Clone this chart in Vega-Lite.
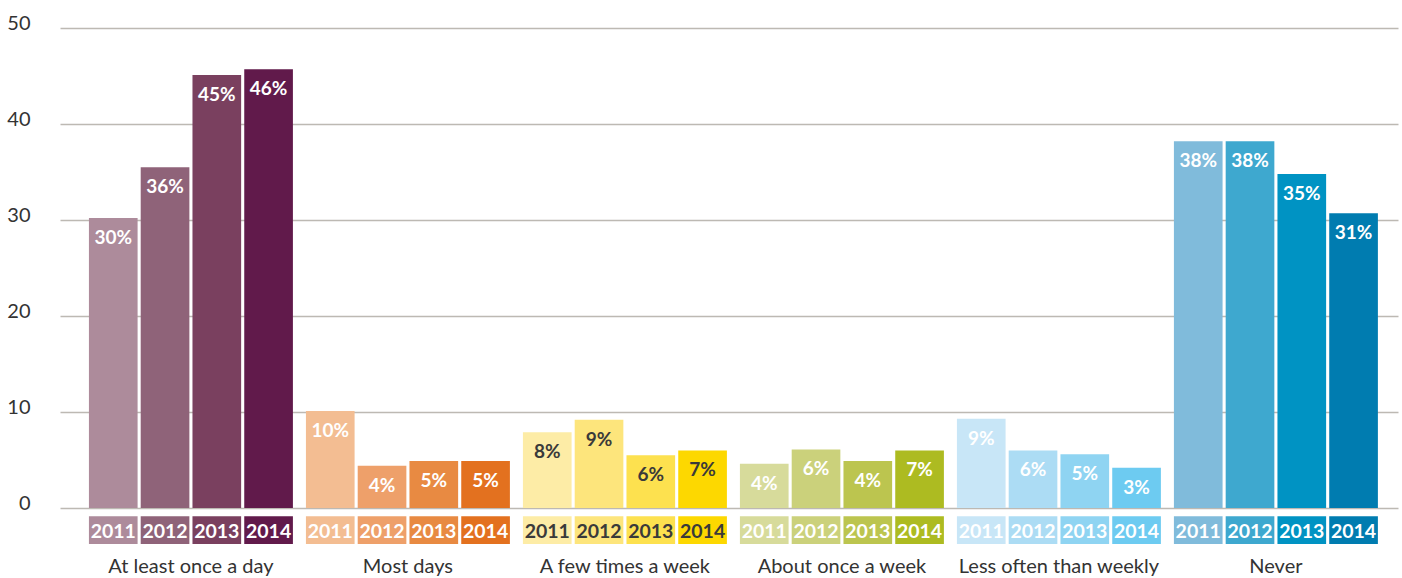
{
  "$schema": "https://vega.github.io/schema/vega-lite/v6.json",
  "width": 1338,
  "height": 480,
  "autosize": "none",
  "padding": {"left": 60, "top": 28, "right": 4, "bottom": 70},
  "background": "white",
  "config": {"view": {"stroke": null}, "font": "Lato"},
  "data": {
    "values": [
      {"group": "At least  once a day", "year": "2011", "value": 30.2, "label": "30%"},
      {"group": "At least  once a day", "year": "2012", "value": 35.5, "label": "36%"},
      {"group": "At least  once a day", "year": "2013", "value": 45.1, "label": "45%"},
      {"group": "At least  once a day", "year": "2014", "value": 45.7, "label": "46%"},
      {"group": "Most days", "year": "2011", "value": 10.1, "label": "10%"},
      {"group": "Most days", "year": "2012", "value": 4.4, "label": "4%"},
      {"group": "Most days", "year": "2013", "value": 4.9, "label": "5%"},
      {"group": "Most days", "year": "2014", "value": 4.9, "label": "5%"},
      {"group": "A few times a week", "year": "2011", "value": 7.9, "label": "8%"},
      {"group": "A few times a week", "year": "2012", "value": 9.2, "label": "9%"},
      {"group": "A few times a week", "year": "2013", "value": 5.5, "label": "6%"},
      {"group": "A few times a week", "year": "2014", "value": 6.0, "label": "7%"},
      {"group": "About once a week", "year": "2011", "value": 4.6, "label": "4%"},
      {"group": "About once a week", "year": "2012", "value": 6.1, "label": "6%"},
      {"group": "About once a week", "year": "2013", "value": 4.9, "label": "4%"},
      {"group": "About once a week", "year": "2014", "value": 6.0, "label": "7%"},
      {"group": "Less often than weekly", "year": "2011", "value": 9.3, "label": "9%"},
      {"group": "Less often than weekly", "year": "2012", "value": 6.0, "label": "6%"},
      {"group": "Less often than weekly", "year": "2013", "value": 5.6, "label": "5%"},
      {"group": "Less often than weekly", "year": "2014", "value": 4.2, "label": "3%"},
      {"group": "Never", "year": "2011", "value": 38.2, "label": "38%"},
      {"group": "Never", "year": "2012", "value": 38.2, "label": "38%"},
      {"group": "Never", "year": "2013", "value": 34.8, "label": "35%"},
      {"group": "Never", "year": "2014", "value": 30.7, "label": "31%"}
    ]
  },
  "transform": [{"calculate": "datum.group + '|' + datum.year", "as": "key"}],
  "encoding": {
    "x": {
      "field": "group",
      "type": "nominal",
      "sort": null,
      "scale": {"paddingInner": 0.06, "paddingOuter": 0.113, "align": 0.59},
      "axis": {
        "title": null,
        "domain": false,
        "ticks": false,
        "labelAngle": 0,
        "labelFontSize": 20,
        "labelLimit": 0,
        "labelColor": "#333333",
        "labelFont": "Lato",
        "labelPadding": 48,
        "labelBaseline": "top"
      }
    },
    "xOffset": {
      "field": "year",
      "type": "nominal",
      "scale": {"paddingInner": 0.06, "paddingOuter": 0}
    }
  },
  "layer": [
    {
      "mark": {"type": "bar"},
      "encoding": {
        "y": {
          "field": "value",
          "type": "quantitative",
          "scale": {"domain": [0, 50], "nice": false},
          "axis": {
            "title": null,
            "values": [0, 10, 20, 30, 40, 50],
            "domain": false,
            "ticks": false,
            "grid": true,
            "gridColor": "#bdb9b3",
            "gridWidth": 1.5,
            "labelFontSize": 20,
            "labelColor": "#333333",
            "labelFont": "Lato",
            "labelPadding": 30,
            "labelBaseline": "alphabetic",
            "labelOffset": 1
          }
        },
        "color": {
          "field": "key",
          "type": "nominal",
          "legend": null,
          "scale": {
            "domain": [
              "At least  once a day|2011", "At least  once a day|2012", "At least  once a day|2013", "At least  once a day|2014",
              "Most days|2011", "Most days|2012", "Most days|2013", "Most days|2014",
              "A few times a week|2011", "A few times a week|2012", "A few times a week|2013", "A few times a week|2014",
              "About once a week|2011", "About once a week|2012", "About once a week|2013", "About once a week|2014",
              "Less often than weekly|2011", "Less often than weekly|2012", "Less often than weekly|2013", "Less often than weekly|2014",
              "Never|2011", "Never|2012", "Never|2013", "Never|2014"
            ],
            "range": [
              "#ad8b9b", "#8f6379", "#7a405f", "#611a4b",
              "#f3bd92", "#eea06a", "#e88a42", "#e3711f",
              "#fdeca6", "#fde57c", "#fde14f", "#fdd800",
              "#d7db9b", "#cbd17b", "#bcc54f", "#adbb21",
              "#c8e6f7", "#acdcf4", "#8fd4f2", "#6dcbf1",
              "#80bbdb", "#3ea8cf", "#0093c3", "#007cb0"
            ]
          }
        }
      }
    },
    {
      "mark": {"type": "bar"},
      "encoding": {
        "y": {"datum": -0.85},
        "y2": {"datum": -3.75},
        "color": {"field": "key", "type": "nominal", "legend": null}
      }
    },
    {
      "mark": {"type": "text", "baseline": "middle", "dy": 20, "fontSize": 19, "fontWeight": "bold", "font": "Lato"},
      "encoding": {
        "y": {"field": "value", "type": "quantitative"},
        "text": {"field": "label"},
        "color": {
          "condition": {"test": "datum.group === 'A few times a week'", "value": "#3a3a3a"},
          "value": "white"
        }
      }
    },
    {
      "mark": {"type": "text", "baseline": "middle", "fontSize": 19.5, "fontWeight": "bold", "font": "Lato"},
      "encoding": {
        "y": {"datum": -2.45},
        "text": {"field": "year"},
        "color": {
          "condition": {"test": "datum.group === 'A few times a week'", "value": "#3a3a3a"},
          "value": "white"
        }
      }
    }
  ]
}
